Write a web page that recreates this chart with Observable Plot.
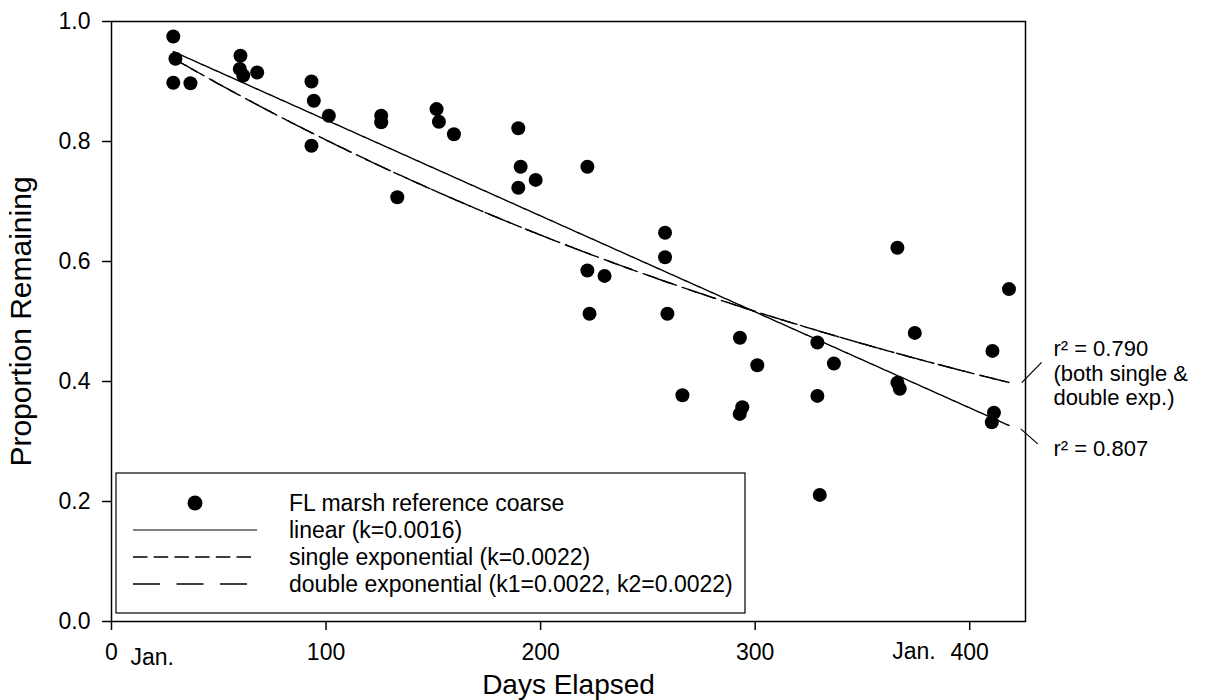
<!DOCTYPE html>
<html>
<head>
<meta charset="utf-8">
<script src="https://cdn.jsdelivr.net/npm/d3@7"></script>
<script src="https://cdn.jsdelivr.net/npm/@observablehq/plot@0.6"></script>
<style>
  html, body { margin: 0; padding: 0; background: #fff; }
  #chart { width: 1207px; height: 700px; }
</style>
</head>
<body>
<div id="chart"></div>
<script>
// Litter-bag samples: days elapsed and proportion of mass remaining
const days = [
  28.8, 29.8, 28.8, 36.8, 60.1, 59.8, 61.4, 67.9,
  93.2, 94.3, 101.3, 93.2, 125.7, 125.7, 133.2,
  151.5, 152.6, 159.6, 189.6, 190.7, 189.6, 197.7,
  221.8, 221.8, 229.8, 222.8, 258.0, 258.0, 259.1, 266.1,
  292.9, 301.0, 294.0, 292.8, 329.0, 336.7, 329.0, 330.1,
  366.3, 418.3, 374.4, 410.6, 366.3, 367.4, 411.3, 410.3
];
const remaining = [
  0.975, 0.938, 0.898, 0.897, 0.943, 0.921, 0.910, 0.915,
  0.900, 0.868, 0.843, 0.793, 0.843, 0.832, 0.707,
  0.854, 0.833, 0.812, 0.822, 0.758, 0.723, 0.736,
  0.758, 0.585, 0.576, 0.513, 0.648, 0.607, 0.513, 0.377,
  0.473, 0.427, 0.357, 0.346, 0.465, 0.430, 0.376, 0.211,
  0.623, 0.554, 0.481, 0.451, 0.398, 0.388, 0.348, 0.332
];

// Fitted decay models
const linearK = 0.0016;
const linearIntercept = 0.996;
const singleK = 0.0022;
const doubleK1 = 0.0022;
const doubleK2 = 0.0022;
const doubleFraction = 0.5;

// Axis ticks
const xTicks = [0, 100, 200, 300, 400];
const yTicks = [0, 0.2, 0.4, 0.6, 0.8, 1.0];

// Month markers under the day axis
const monthLabels = ["Jan.", "Jan."];
const monthDays = [19, 374];

// Goodness-of-fit notes in the right margin
const fitNotes = ["r\u00B2 = 0.790\n(both single &\ndouble exp.)", "r\u00B2 = 0.807"];
const fitNoteDays = [439, 439];
const fitNoteValues = [0.4145, 0.288];
const leaderStartDays = [424.3, 423.8];
const leaderStartValues = [0.398, 0.321];
const leaderEndDays = [433.5, 431.7];
const leaderEndValues = [0.432, 0.296];

// Legend entries
const legendLabels = [
  "FL marsh reference coarse",
  "linear (k=0.0016)",
  "single exponential (k=0.0022)",
  "double exponential (k1=0.0022, k2=0.0022)"
];

const points = days.map((d, i) => ({day: d, value: remaining[i]}));

const firstDay = d3.min(days);
const lastDay = d3.max(days);
const fitDays = d3.range(firstDay, lastDay, 1).concat([lastDay]);
const linearFit = fitDays.map(d => ({day: d, value: linearIntercept - linearK * d}));
const singleFit = fitDays.map(d => ({day: d, value: Math.exp(-singleK * d)}));
const doubleFit = fitDays.map(d => ({
  day: d,
  value: doubleFraction * Math.exp(-doubleK1 * d) + (1 - doubleFraction) * Math.exp(-doubleK2 * d)
}));

const months = monthLabels.map((m, i) => ({day: monthDays[i], label: m}));
const notes = fitNotes.map((t, i) => ({day: fitNoteDays[i], value: fitNoteValues[i], text: t}));
const leaders = leaderStartDays.map((d, i) => ({
  x1: d, y1: leaderStartValues[i], x2: leaderEndDays[i], y2: leaderEndValues[i]
}));

const font = "'Liberation Sans', Arial, Helvetica, sans-serif";

const chart = Plot.plot({
  width: 1207,
  height: 700,
  marginLeft: 111,
  marginRight: 182,
  marginTop: 21,
  marginBottom: 79,
  style: {fontFamily: font, fontSize: "23px", color: "#000", background: "#fff"},
  x: {domain: [0, 426]},
  y: {domain: [0, 1]},
  marks: [
    Plot.frame({stroke: "#000", strokeWidth: 1.5}),
    Plot.axisY({ticks: yTicks, tickFormat: d3.format(".1f"), tickSize: 9, tickPadding: 12,
                label: null, fontSize: 23, strokeWidth: 1.5}),
    Plot.axisX({ticks: xTicks, tickFormat: d3.format("d"), tickSize: 9, tickPadding: 13,
                label: null, fontSize: 23, strokeWidth: 1.5}),
    Plot.line(linearFit, {x: "day", y: "value", stroke: "#000", strokeWidth: 1.4}),
    Plot.line(singleFit, {x: "day", y: "value", stroke: "#000", strokeWidth: 1.4, strokeDasharray: "14.5,6.2"}),
    Plot.line(doubleFit, {x: "day", y: "value", stroke: "#000", strokeWidth: 1.4, strokeDasharray: "27,16.5"}),
    Plot.dot(points, {x: "day", y: "value", r: 7, fill: "#000", stroke: null}),
    Plot.link(leaders, {x1: "x1", y1: "y1", x2: "x2", y2: "y2", stroke: "#000", strokeWidth: 1.2}),
    Plot.text(notes, {x: "day", y: "value", text: "text", textAnchor: "start", lineAnchor: "middle",
                      lineHeight: 1.1, fontSize: 22, fill: "#000"}),
    Plot.text(months.slice(0, 1), {x: "day", y: 0, text: "label", dy: 36, fontSize: 23, fill: "#000"}),
    Plot.text(months.slice(1), {x: "day", y: 0, text: "label", dy: 30, fontSize: 23, fill: "#000"}),
    Plot.text(["Days Elapsed"], {frameAnchor: "bottom", textAnchor: "middle", lineAnchor: "middle",
                                 dy: 64, fontSize: 28, fill: "#000"}),
    Plot.text(["Proportion Remaining"], {frameAnchor: "left", textAnchor: "middle", lineAnchor: "middle",
                                         rotate: -90, dx: -90, fontSize: 30, fill: "#000"})
  ]
});

document.getElementById("chart").appendChild(chart);

// Legend box in the lower-left of the plotting area
const svg = d3.select(chart);
const legend = svg.append("g").attr("transform", "translate(116,473)");
legend.append("rect")
  .attr("width", 629).attr("height", 140)
  .attr("fill", "#fff").attr("stroke", "#000").attr("stroke-width", 1.2);

const rowY = [30, 57, 84, 111];
const symbolX0 = 17, symbolX1 = 141, symbolMid = 79, textX = 173;
const dashes = [null, null, "14.5,6.2", "27,16.5"];

legendLabels.forEach((label, i) => {
  if (i === 0) {
    legend.append("circle").attr("cx", symbolMid).attr("cy", rowY[i]).attr("r", 7.5).attr("fill", "#000");
  } else {
    const ln = legend.append("line")
      .attr("x1", symbolX0).attr("x2", symbolX1)
      .attr("y1", rowY[i]).attr("y2", rowY[i])
      .attr("stroke", "#000").attr("stroke-width", i === 1 ? 1 : 1.4);
    if (dashes[i]) ln.attr("stroke-dasharray", dashes[i]);
  }
  legend.append("text")
    .attr("x", textX).attr("y", rowY[i]).attr("dy", "0.35em")
    .attr("text-anchor", "start")
    .attr("font-family", font).attr("font-size", 23).attr("fill", "#000")
    .text(label);
});
</script>
</body>
</html>
